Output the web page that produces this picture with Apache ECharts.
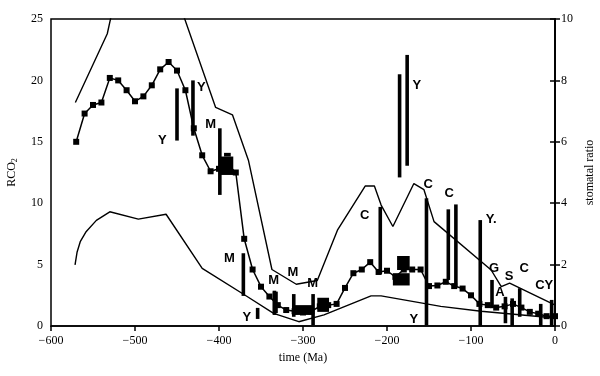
<!DOCTYPE html>
<html>
<head>
<meta charset="utf-8">
<title>RCO2 and stomatal ratio</title>
<script src="https://cdn.jsdelivr.net/npm/echarts@6/dist/echarts.min.js"></script>
<style>
    html, body { margin: 0; padding: 0; background: #fff; }
    #main { width: 600px; height: 376px; }
</style>
</head>
<body>
<div id="main"></div>
<script>
// model RCO2 curve (left axis), one point every 10 Ma
var ageMa = [-570, -560, -550, -540, -530, -520, -510, -500, -490, -480,
    -470, -460, -450, -440, -430, -420, -410, -400, -390, -380,
    -370, -360, -350, -340, -330, -320, -310, -300, -290, -280,
    -270, -260, -250, -240, -230, -220, -210, -200, -190, -180,
    -170, -160, -150, -140, -130, -120, -110, -100, -90, -80,
    -70, -60, -50, -40, -30, -20, -10, 0];
var rco2 = [15.0, 17.3, 18.0, 18.2, 20.2, 20.0, 19.2, 18.3, 18.7, 19.6,
    20.9, 21.5, 20.8, 19.2, 16.1, 13.9, 12.6, 12.8, 13.2, 12.5,
    7.1, 4.6, 3.2, 2.4, 1.7, 1.3, 1.2, 1.1, 1.2, 1.6,
    1.7, 1.8, 3.1, 4.3, 4.6, 5.2, 4.4, 4.5, 4.0, 4.6,
    4.6, 4.6, 3.25, 3.3, 3.6, 3.25, 3.05, 2.5, 1.8, 1.7,
    1.5, 1.6, 1.8, 1.5, 1.15, 1.0, 0.8, 0.8];

// error envelope of the model curve [age, RCO2]
var upperBound = [[-571, 18.2], [-533, 23.8], [-525, 26.3], [-451, 27], [-404, 17.8],
    [-384, 17.2], [-365, 13.5], [-337, 4.6], [-308, 3.4], [-283, 3.7], [-259, 7.8],
    [-226, 11.4], [-215, 11.4], [-207, 9.85], [-193, 8.1], [-168, 11.6], [-156, 11.1],
    [-144, 8.5], [-76, 4.56], [-64, 3.2], [-54, 3.5], [-1, 1.75]];
var lowerBound = [[-571.4, 4.97], [-569, 6.0], [-565, 6.9], [-558, 7.7], [-546, 8.6],
    [-530, 9.3], [-496, 8.7], [-463, 9.1], [-420, 4.7], [-366.5, 2.4], [-335, 1.03],
    [-305, 0.35], [-275, 0.9], [-219, 2.45], [-207, 2.45], [-136, 1.6], [-88, 1.2],
    [0, 0.65]];

// clusters of overlapping points [age start, age end, RCO2 low, RCO2 high]
var clusters = [[-400, -383, 12.3, 13.8], [-394, -386, 13.8, 14.1],
    [-336, -330, 1.05, 2.8], [-311, -287, 0.9, 1.7], [-283, -269, 1.15, 2.3],
    [-188, -173, 4.56, 5.7], [-193, -173, 3.3, 4.3]];

// stomatal ratio ranges (right axis) [age, low, high]
var stomatalRanges = [[-450, 6.04, 7.74], [-431, 6.2, 8.0], [-399, 4.27, 6.44],
    [-371, 0.98, 2.37], [-354, 0.23, 0.59], [-334, 0.36, 1.15], [-311, 0.3, 1.04],
    [-288, 0.03, 1.04], [-208, 1.69, 3.88], [-185, 4.84, 8.2], [-176, 5.22, 8.83],
    [-153, 0.03, 4.16], [-127, 1.5, 3.8], [-118, 1.28, 3.96], [-89, 0, 3.45],
    [-75, 0.58, 1.5], [-59, 0.09, 0.95], [-51, 0, 0.9], [-42, 0.3, 1.23],
    [-17, 0, 0.72], [-4, 0, 0.85]];

// letters next to the ranges [age, RCO2, text]
var rangeLabels = [[-467.5, 15.1, 'Y'], [-421, 19.4, 'Y'], [-410, 16.4, 'M'],
    [-387.6, 5.5, 'M'], [-367, 0.7, 'Y'], [-335, 3.7, 'M'], [-312, 4.4, 'M'],
    [-288.5, 3.5, 'M'], [-226.5, 9.0, 'C'], [-164.4, 19.6, 'Y'], [-151, 11.5, 'C'],
    [-126, 10.8, 'C'], [-76, 8.7, 'Y.'], [-72.5, 4.7, 'G'], [-65.4, 2.7, 'A'],
    [-54.6, 4.0, 'S'], [-36.8, 4.7, 'C'], [-12.9, 3.3, 'CY'], [-168, 0.5, 'Y']];

var myChart = echarts.init(document.getElementById('main'));

var serifText = { fontFamily: 'Liberation Serif', fontSize: 12, color: '#000' };

var option = {
    animation: false,
    backgroundColor: '#fff',
    grid: {
        left: 51, right: 45, top: 19, bottom: 50,
        containLabel: false, outerBoundsMode: 'none',
        show: true, borderColor: '#000', borderWidth: 1.5
    },
    xAxis: {
        type: 'value', min: -600, max: 0, interval: 100,
        name: 'time (Ma)', nameLocation: 'middle', nameGap: 26,
        nameTextStyle: serifText,
        axisLine: { lineStyle: { color: '#000', width: 1.5 } },
        axisTick: { length: 5, lineStyle: { color: '#000', width: 1.5 } },
        axisLabel: Object.assign({ margin: 9, formatter: function (v) { return String(v).replace('-', '\u2212'); } }, serifText),
        splitLine: { show: false }
    },
    yAxis: [{
        type: 'value', min: 0, max: 25, interval: 5,
        name: 'RCO{sub|2}', nameLocation: 'middle', nameGap: 32, nameRotate: 90,
        nameTextStyle: Object.assign({ rich: { sub: { fontFamily: 'Liberation Serif', fontSize: 8, verticalAlign: 'bottom', padding: [6, 0, 0, 0] } } }, serifText),
        axisLine: { show: true, lineStyle: { color: '#000', width: 1.5 } },
        axisTick: { show: true, length: 5, lineStyle: { color: '#000', width: 1.5 } },
        axisLabel: Object.assign({ margin: 8 }, serifText),
        splitLine: { show: false }
    }, {
        type: 'value', min: 0, max: 10, interval: 2, position: 'right',
        name: 'stomatal ratio', nameLocation: 'middle', nameGap: 28, nameRotate: 90,
        nameTextStyle: serifText,
        axisLine: { show: true, lineStyle: { color: '#000', width: 1.5 } },
        axisTick: { show: true, length: 5, lineStyle: { color: '#000', width: 1.5 } },
        axisLabel: Object.assign({ margin: 6 }, serifText),
        splitLine: { show: false }
    }],
    series: [
        {
            type: 'line', data: upperBound, symbol: 'none', clip: true,
            lineStyle: { color: '#000', width: 1.4 }
        },
        {
            type: 'line', data: lowerBound, symbol: 'none', clip: true,
            lineStyle: { color: '#000', width: 1.4 }
        },
        {
            type: 'custom', yAxisIndex: 1, data: stomatalRanges,
            encode: { x: 0, y: [1, 2] },
            renderItem: function (params, api) {
                var top = api.coord([api.value(0), api.value(2)]);
                var bottom = api.coord([api.value(0), api.value(1)]);
                return {
                    type: 'rect',
                    shape: { x: top[0] - 1.8, y: top[1], width: 3.6, height: bottom[1] - top[1] },
                    style: { fill: '#000' }
                };
            }
        },
        {
            type: 'line', data: ageMa.map(function (t, i) { return [t, rco2[i]]; }),
            symbol: 'rect', symbolSize: 6,
            itemStyle: { color: '#000' },
            lineStyle: { color: '#000', width: 1.5 }
        },
        {
            type: 'custom', data: clusters,
            encode: { x: [0, 1], y: [2, 3] },
            renderItem: function (params, api) {
                var a = api.coord([api.value(0), api.value(3)]);
                var b = api.coord([api.value(1), api.value(2)]);
                return {
                    type: 'rect',
                    shape: { x: a[0], y: a[1], width: b[0] - a[0], height: b[1] - a[1] },
                    style: { fill: '#000' }
                };
            }
        },
        {
            type: 'custom', data: rangeLabels,
            encode: { x: 0, y: 1 },
            renderItem: function (params, api) {
                var p = api.coord([api.value(0), api.value(1)]);
                return {
                    type: 'text', x: p[0], y: p[1],
                    style: {
                        text: rangeLabels[params.dataIndex][2],
                        font: 'bold 13px "Liberation Sans"',
                        fill: '#000', align: 'center', verticalAlign: 'middle'
                    }
                };
            }
        }
    ]
};

myChart.setOption(option);
</script>
</body>
</html>
